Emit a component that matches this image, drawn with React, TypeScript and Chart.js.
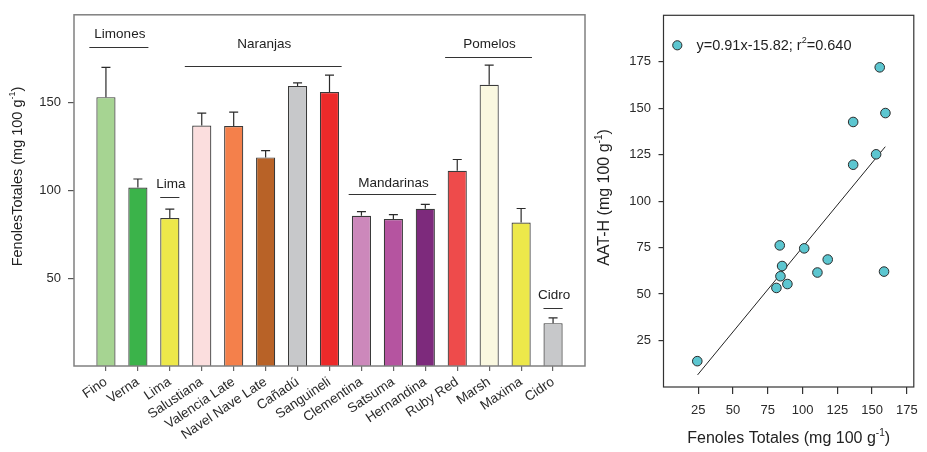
import React, { useEffect, useRef } from 'react';
import { Chart, registerables } from 'chart.js';
Chart.register(...registerables);

const FONT = '"Liberation Sans", Arial, Helvetica, sans-serif';

// ---------- Left panel data ----------
const categories = ['Fino', 'Verna', 'Lima', 'Salustiana', 'Valencia Late', 'Navel Nave Late', 'Cañadú', 'Sanguineli', 'Clementina', 'Satsuma', 'Hernandina', 'Ruby Red', 'Marsh', 'Maxima', 'Cidro'];
const fenoles = [153.1, 101.6, 84.3, 136.9, 136.7, 118.8, 159.4, 156.0, 85.6, 83.7, 89.5, 111.2, 160.1, 81.7, 24.4];
const fenolesErr = [17.0, 4.9, 5.0, 7.1, 7.9, 3.9, 1.8, 9.6, 2.3, 2.5, 2.5, 6.4, 11.2, 8.0, 3.0];
const barColors = ['#A6D492', '#3BB34A', '#EDE84A', '#FBDEDE', '#F4804B', '#B86227', '#C7C8CA', '#EC2A2A', '#CC88BB', '#B554A0', '#7D2A7C', '#EE4B4B', '#FAF8E0', '#EDE84A', '#C7C8CA'];
const leftYTicks = [50, 100, 150];

const groupNames = ['Limones', 'Lima', 'Naranjas', 'Mandarinas', 'Pomelos', 'Cidro'];
const groupFrom = [-0.52, 1.7, 2.47, 7.6, 10.62, 13.7];
const groupTo = [1.33, 2.3, 7.38, 10.34, 13.34, 14.3];
const groupLineAt = [181.5, 96.3, 171.0, 97.8, 176.0, 33.0];
const groupLabelAt = [189.0, 103.4, 183.4, 104.0, 183.4, 40.5];

// ---------- Right panel data ----------
const scatterX = [155.5, 159.6, 136.4, 152.9, 136.4, 83.6, 101.2, 118.1, 85.3, 110.7, 158.6, 84.1, 89.1, 81.2, 24.3];
const scatterY = [172.0, 147.4, 142.6, 125.2, 119.6, 76.2, 74.6, 68.6, 65.1, 61.6, 62.1, 59.6, 55.4, 53.3, 13.9];
const regX = [24.5, 159.5];
const regY = [6.5, 129.3];
const rightTicks = [25, 50, 75, 100, 125, 150, 175];

type Seg = { t: string; sup?: boolean };

function drawRich(ctx: CanvasRenderingContext2D, segs: Seg[], x: number, y: number, size: number, rot: number, align: 'center' | 'left') {
  ctx.save();
  ctx.translate(x, y);
  ctx.rotate(rot);
  ctx.fillStyle = '#222';
  ctx.textBaseline = 'middle';
  ctx.textAlign = 'left';
  const main = `${size}px ${FONT}`;
  const small = `${Math.round(size * 0.62)}px ${FONT}`;
  const widths = segs.map((s) => {
    ctx.font = s.sup ? small : main;
    return ctx.measureText(s.t).width;
  });
  const total = widths.reduce((a, b) => a + b, 0);
  let cx = align === 'center' ? -total / 2 : 0;
  segs.forEach((s, i) => {
    ctx.font = s.sup ? small : main;
    ctx.fillText(s.t, cx, s.sup ? -size * 0.38 : 0);
    cx += widths[i];
  });
  ctx.restore();
}

const leftPlugin = {
  id: 'leftDecor',
  afterDraw(chart: any) {
    const { ctx, chartArea: a, scales } = chart;
    const x = scales.x, y = scales.y;
    ctx.save();
    // error bars
    ctx.strokeStyle = '#2b2b2b';
    ctx.lineWidth = 1.2;
    fenoles.forEach((v, i) => {
      const px = x.getPixelForValue(i);
      const y0 = y.getPixelForValue(v);
      const y1 = y.getPixelForValue(v + fenolesErr[i]);
      ctx.beginPath();
      ctx.moveTo(px, y0);
      ctx.lineTo(px, y1);
      ctx.moveTo(px - 4.5, y1);
      ctx.lineTo(px + 4.5, y1);
      ctx.stroke();
    });
    // group annotations
    ctx.lineWidth = 1;
    ctx.strokeStyle = '#333';
    ctx.fillStyle = '#222';
    ctx.font = `13.5px ${FONT}`;
    ctx.textAlign = 'center';
    ctx.textBaseline = 'middle';
    groupNames.forEach((name, i) => {
      const x0 = x.getPixelForValue(groupFrom[i]);
      const x1 = x.getPixelForValue(groupTo[i]);
      const ly = Math.round(y.getPixelForValue(groupLineAt[i])) + 0.5;
      ctx.beginPath();
      ctx.moveTo(x0, ly);
      ctx.lineTo(x1, ly);
      ctx.stroke();
      ctx.fillText(name, (x0 + x1) / 2 + 1, y.getPixelForValue(groupLabelAt[i]));
    });
    // frame
    ctx.strokeStyle = '#808080';
    ctx.lineWidth = 1.5;
    ctx.strokeRect(a.left, a.top, a.right - a.left, a.bottom - a.top);
    ctx.restore();
    drawRich(ctx, [{ t: 'FenolesTotales (mg 100 g' }, { t: '-1', sup: true }, { t: ')' }], 18, 176.5, 14.5, -Math.PI / 2, 'center');
  },
};

const rightPlugin = {
  id: 'rightDecor',
  afterDraw(chart: any) {
    const { ctx, chartArea: a } = chart;
    ctx.save();
    ctx.strokeStyle = '#333';
    ctx.lineWidth = 1.2;
    ctx.strokeRect(a.left, a.top, a.right - a.left, a.bottom - a.top);
    // legend
    ctx.beginPath();
    ctx.arc(a.left + 13.8, a.top + 30, 4.6, 0, Math.PI * 2);
    ctx.fillStyle = '#5CC6D0';
    ctx.fill();
    ctx.lineWidth = 1;
    ctx.strokeStyle = '#2b2b2b';
    ctx.stroke();
    ctx.restore();
    drawRich(ctx, [{ t: 'y=0.91x-15.82; r' }, { t: '2', sup: true }, { t: '=0.640' }], a.left + 33, a.top + 30.5, 14.5, 0, 'left');
    drawRich(ctx, [{ t: 'AAT-H (mg 100 g' }, { t: '-1', sup: true }, { t: ')' }], 15, 197.5, 16, -Math.PI / 2, 'center');
    drawRich(ctx, [{ t: 'Fenoles Totales (mg 100 g' }, { t: '-1', sup: true }, { t: ')' }], (a.left + a.right) / 2, 439, 16, 0, 'center');
  },
};

function LeftChart() {
  const ref = useRef<HTMLCanvasElement>(null);
  useEffect(() => {
    const chart = new Chart(ref.current as HTMLCanvasElement, {
      type: 'bar',
      data: {
        datasets: [
          {
            data: fenoles.map((v, i) => ({ x: i, y: v })),
            backgroundColor: barColors,
            borderColor: '#3a3a3a',
            borderWidth: 1.2,
            barPercentage: 0.6,
            categoryPercentage: 1,
          } as any,
        ],
      },
      options: {
        animation: false,
        responsive: false,
        layout: { padding: { top: 10, right: 5, left: 0, bottom: 0 } },
        plugins: { legend: { display: false }, tooltip: { enabled: false } },
        scales: {
          x: {
            type: 'linear',
            min: -1,
            max: 15,
            offset: false,
            afterBuildTicks: (s: any) => {
              s.ticks = categories.map((_, i) => ({ value: i }));
            },
            afterFit: (s: any) => {
              s.height = 86;
            },
            grid: { display: true, offset: false, drawOnChartArea: false, tickLength: 5, tickColor: '#666', lineWidth: 1.2 },
            border: { display: false },
            ticks: {
              autoSkip: false,
              minRotation: 34,
              maxRotation: 34,
              padding: 3,
              color: '#2a2a2a',
              font: { family: FONT, size: 13.5 },
              callback: (v: any) => categories[v] ?? '',
            },
          },
          y: {
            type: 'linear',
            min: 0,
            max: 200,
            afterBuildTicks: (s: any) => {
              s.ticks = leftYTicks.map((v) => ({ value: v }));
            },
            afterFit: (s: any) => {
              s.width = 74;
            },
            grid: { display: true, drawOnChartArea: false, tickLength: 6, tickColor: '#555', lineWidth: 1.2 },
            border: { display: false },
            ticks: { padding: 7, color: '#2a2a2a', font: { family: FONT, size: 13 } },
          },
        },
      } as any,
      plugins: [leftPlugin],
    });
    return () => chart.destroy();
  }, []);
  return <canvas ref={ref} width={590} height={452} style={{ position: 'absolute', left: 0, top: 0, width: 590, height: 452 }} />;
}

function RightChart() {
  const ref = useRef<HTMLCanvasElement>(null);
  useEffect(() => {
    const chart = new Chart(ref.current as HTMLCanvasElement, {
      type: 'scatter',
      data: {
        datasets: [
          {
            data: scatterX.map((v, i) => ({ x: v, y: scatterY[i] })),
            backgroundColor: '#5CC6D0',
            borderColor: '#2b2b2b',
            borderWidth: 1,
            pointRadius: 4.8,
          },
          {
            type: 'line',
            data: regX.map((v, i) => ({ x: v, y: regY[i] })),
            borderColor: '#222',
            borderWidth: 1,
            pointRadius: 0,
            fill: false,
          } as any,
        ],
      },
      options: {
        animation: false,
        responsive: false,
        layout: { padding: { top: 9.5, right: 11.3, left: 0, bottom: 0 } },
        plugins: { legend: { display: false }, tooltip: { enabled: false } },
        scales: {
          x: {
            type: 'linear',
            min: 0,
            max: 180,
            afterBuildTicks: (s: any) => {
              s.ticks = rightTicks.map((v) => ({ value: v }));
            },
            afterFit: (s: any) => {
              s.height = 65;
            },
            grid: { display: true, drawOnChartArea: false, tickLength: 7, tickColor: '#333', lineWidth: 1.2 },
            border: { display: false },
            ticks: { padding: 9, color: '#2a2a2a', font: { family: FONT, size: 13 }, maxRotation: 0 },
          },
          y: {
            type: 'linear',
            min: 0,
            max: 200,
            afterBuildTicks: (s: any) => {
              s.ticks = rightTicks.map((v) => ({ value: v }));
            },
            afterFit: (s: any) => {
              s.width = 73.5;
            },
            grid: { display: true, drawOnChartArea: false, tickLength: 5, tickColor: '#333', lineWidth: 1.2 },
            border: { display: false },
            ticks: { padding: 7.5, color: '#2a2a2a', font: { family: FONT, size: 13 } },
          },
        },
      } as any,
      plugins: [rightPlugin],
    });
    return () => chart.destroy();
  }, []);
  return <canvas ref={ref} width={337} height={452} style={{ position: 'absolute', left: 590, top: 0, width: 337, height: 452 }} />;
}

export default function App() {
  return (
    <div style={{ position: 'fixed', left: 0, top: 0, width: 927, height: 452, background: '#fff', overflow: 'hidden' }}>
      <LeftChart />
      <RightChart />
    </div>
  );
}
